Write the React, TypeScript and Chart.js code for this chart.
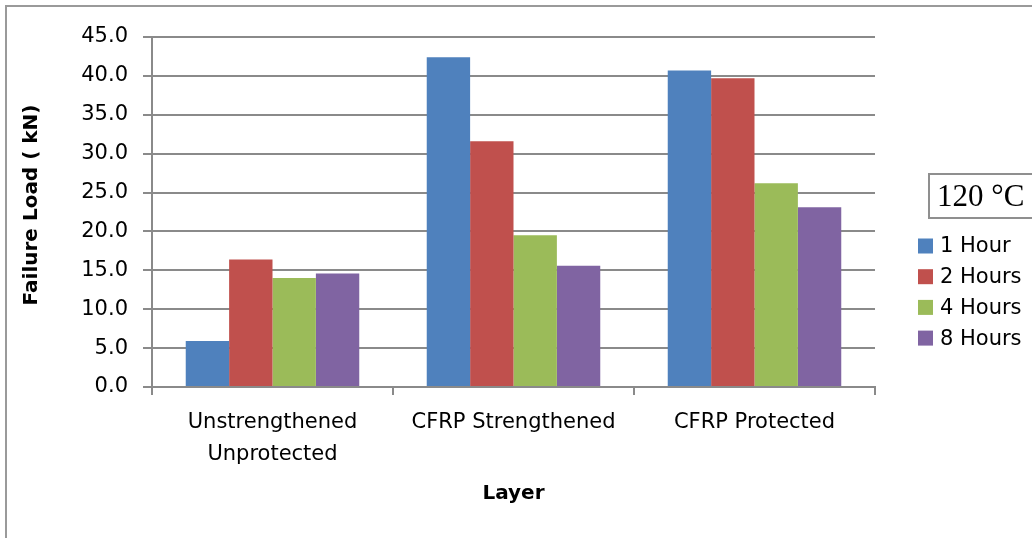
import React, { useEffect, useRef } from "react";
import { Chart, registerables } from "chart.js";

Chart.register(...registerables);

const categories: (string | string[])[] = [
  ["Unstrengthened", "Unprotected"],
  "CFRP Strengthened",
  "CFRP Protected",
];
const seriesLabels = ["1 Hour", "2 Hours", "4 Hours", "8 Hours"];
const oneHour = [5.9, 42.4, 40.7];
const twoHours = [16.4, 31.6, 39.7];
const fourHours = [14.0, 19.5, 26.2];
const eightHours = [14.6, 15.6, 23.1];
const seriesColors = ["#4F81BD", "#C0504D", "#9BBB59", "#8064A2"];
const yMin = 0;
const yMax = 45;
const yStep = 5;
const yTitle = "Failure Load ( kN)";
const xTitle = "Layer";
const boxTitle = "120 °C";

const FONT = "'DejaVu Sans', sans-serif";
const GRID = "#8a8a8a";

const legendPlugin = {
  id: "customLegend",
  afterDraw(chart: any) {
    const ctx = chart.ctx as CanvasRenderingContext2D;
    ctx.save();
    // y axis title
    ctx.save();
    ctx.translate(32, 205);
    ctx.rotate(-Math.PI / 2);
    ctx.font = "bold 20px " + FONT;
    ctx.fillStyle = "#000";
    ctx.textAlign = "center";
    ctx.textBaseline = "middle";
    ctx.fillText(yTitle, 0, 0);
    ctx.restore();
    // title box
    ctx.strokeStyle = "#8f8f8f";
    ctx.lineWidth = 2;
    ctx.strokeRect(929, 174, 110, 44);
    ctx.fillStyle = "#000";
    ctx.font = "31px 'Liberation Serif', 'Times New Roman', serif";
    ctx.textBaseline = "middle";
    ctx.textAlign = "left";
    ctx.fillText(boxTitle, 937, 198);
    // legend items
    ctx.font = "21px " + FONT;
    chart.data.datasets.forEach((ds: any, i: number) => {
      const cy = 246 + i * 30.7;
      ctx.fillStyle = ds.backgroundColor;
      ctx.fillRect(918, cy - 7.5, 15, 15);
      ctx.fillStyle = "#000";
      ctx.fillText(ds.label, 940, cy + 1);
    });
    ctx.restore();
  },
};

export default function App() {
  const ref = useRef<HTMLCanvasElement | null>(null);
  useEffect(() => {
    if (!ref.current) return;
    const series = [oneHour, twoHours, fourHours, eightHours];
    const chart = new Chart(ref.current, {
      type: "bar",
      data: {
        labels: categories,
        datasets: series.map((d, i) => ({
          label: seriesLabels[i],
          data: d,
          backgroundColor: seriesColors[i],
          borderWidth: 0,
          barPercentage: 1.0,
          categoryPercentage: 0.72,
        })),
      },
      options: {
        responsive: false,
        animation: false,
        devicePixelRatio: 1,
        layout: { padding: { left: 20, top: 37, right: 157, bottom: 32 } },
        plugins: {
          legend: { display: false },
          tooltip: { enabled: false },
        },
        scales: {
          x: {
            afterFit: (s: any) => {
              s.height = 119;
            },
            grid: {
              drawOnChartArea: false,
              drawTicks: true,
              offset: true,
              tickLength: 8,
              color: GRID,
              lineWidth: 2,
            },
            border: { display: true, color: GRID, width: 2 },
            ticks: {
              color: "#000",
              font: { family: FONT, size: 21, lineHeight: 1.5 },
              padding: 12,
              maxRotation: 0,
              autoSkip: false,
            },
            title: {
              display: true,
              text: xTitle,
              color: "#000",
              font: { family: FONT, size: 20, weight: "bold" },
              padding: 0,
            },
          },
          y: {
            min: yMin,
            max: yMax,
            afterFit: (s: any) => {
              s.width = 132;
            },
            grid: {
              drawOnChartArea: true,
              drawTicks: true,
              tickLength: 9,
              color: GRID,
              lineWidth: 2,
            },
            border: { display: true, color: GRID, width: 2 },
            ticks: {
              stepSize: yStep,
              color: "#000",
              font: { family: FONT, size: 21 },
              padding: 15,
              callback: (v: any) => Number(v).toFixed(1),
            },
            title: { display: false },
          },
        },
      },
      plugins: [legendPlugin],
    });
    return () => chart.destroy();
  }, []);

  return (
    <div style={{ position: "absolute", left: 0, top: 0, width: 1032, height: 538, background: "#fff", overflow: "hidden" }}>
      <div
        style={{
          position: "absolute",
          left: 5,
          top: 5,
          width: 1100,
          height: 600,
          borderLeft: "2px solid #9a9a9a",
          borderTop: "2px solid #9a9a9a",
        }}
      />
      <canvas ref={ref} width={1032} height={538} style={{ position: "absolute", left: 0, top: 0, width: 1032, height: 538 }} />
    </div>
  );
}
